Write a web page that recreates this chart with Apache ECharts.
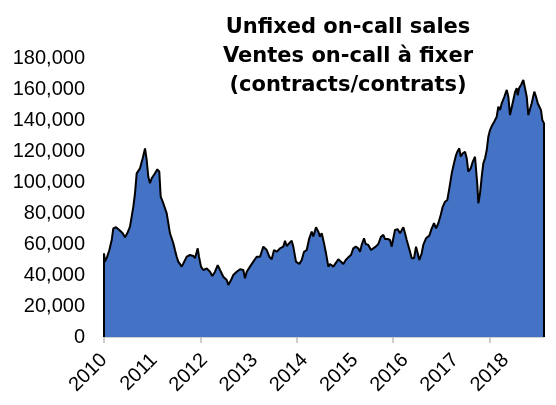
<!DOCTYPE html>
<html>
<head>
<meta charset="utf-8">
<script src="https://cdn.jsdelivr.net/npm/echarts@6/dist/echarts.min.js"></script>
<style>
  html, body { margin: 0; padding: 0; background: #fff; }
  #main { width: 556px; height: 405px; }
</style>
</head>
<body>
<div id="main"></div>
<script>
// weekly-ish readings, x in decimal years
var years = [
  2010.000, 2010.021, 2010.068, 2010.110, 2010.160, 2010.193, 2010.249, 2010.317, 2010.388, 2010.436,
  2010.483, 2010.539, 2010.608, 2010.643, 2010.678, 2010.747, 2010.803, 2010.851, 2010.886, 2010.919,
  2010.954, 2010.990, 2011.023, 2011.058, 2011.106, 2011.147, 2011.176, 2011.230, 2011.301, 2011.369,
  2011.438, 2011.473, 2011.508, 2011.541, 2011.612, 2011.645, 2011.716, 2011.784, 2011.853, 2011.888,
  2011.944, 2011.971, 2012.012, 2012.060, 2012.131, 2012.199, 2012.247, 2012.303, 2012.359, 2012.407,
  2012.475, 2012.546, 2012.579, 2012.635, 2012.683, 2012.753, 2012.822, 2012.890, 2012.925, 2012.961,
  2013.029, 2013.098, 2013.168, 2013.237, 2013.305, 2013.376, 2013.429, 2013.479, 2013.527, 2013.583,
  2013.651, 2013.720, 2013.755, 2013.790, 2013.844, 2013.894, 2013.927, 2013.983, 2014.052, 2014.102,
  2014.149, 2014.205, 2014.259, 2014.309, 2014.342, 2014.398, 2014.446, 2014.481, 2014.517, 2014.564,
  2014.606, 2014.654, 2014.689, 2014.757, 2014.807, 2014.861, 2014.917, 2014.965, 2015.015, 2015.068,
  2015.124, 2015.172, 2015.222, 2015.276, 2015.311, 2015.346, 2015.394, 2015.429, 2015.483, 2015.539,
  2015.587, 2015.637, 2015.691, 2015.747, 2015.795, 2015.830, 2015.886, 2015.934, 2015.969, 2016.002,
  2016.037, 2016.093, 2016.141, 2016.210, 2016.245, 2016.280, 2016.313, 2016.349, 2016.384, 2016.432,
  2016.473, 2016.500, 2016.541, 2016.591, 2016.624, 2016.680, 2016.749, 2016.799, 2016.846, 2016.888,
  2016.936, 2016.985, 2017.027, 2017.075, 2017.122, 2017.164, 2017.214, 2017.261, 2017.303, 2017.330,
  2017.371, 2017.400, 2017.442, 2017.490, 2017.525, 2017.558, 2017.608, 2017.649, 2017.697, 2017.745,
  2017.766, 2017.801, 2017.836, 2017.869, 2017.905, 2017.940, 2017.973, 2018.008, 2018.056, 2018.098,
  2018.147, 2018.180, 2018.216, 2018.251, 2018.305, 2018.355, 2018.388, 2018.423, 2018.459, 2018.492,
  2018.527, 2018.562, 2018.583, 2018.610, 2018.651, 2018.699, 2018.734, 2018.770, 2018.803, 2018.838,
  2018.873, 2018.927, 2018.963, 2018.998, 2019.025, 2019.066, 2019.093, 2019.115, 2019.128
];
var sales = [
  54000, 48600, 52000, 56000, 62600, 70000, 70800, 69000, 66900, 64300,
  66900, 71200, 84000, 92700, 105600, 108800, 115300, 121700, 114200, 103400,
  99200, 102400, 101300, 105600, 108200, 106700, 90500, 86300, 79800, 66900,
  60500, 56000, 51800, 48600, 45400, 46400, 51800, 52900, 52300, 50800,
  57200, 51800, 45400, 43200, 44300, 42100, 39400, 42100, 46400, 43200,
  38900, 36800, 33500, 36800, 40000, 42100, 43700, 43200, 37900, 42100,
  45400, 48600, 51800, 51800, 58300, 56100, 51800, 50100, 56100, 55000,
  57200, 58300, 62100, 58700, 60500, 62100, 58300, 48600, 47100, 49700,
  55000, 56100, 63700, 68000, 64800, 70800, 68000, 64800, 67000, 60500,
  54000, 45400, 47100, 45400, 47700, 50100, 48600, 47100, 49700, 51400,
  52900, 57200, 58300, 57200, 55000, 59400, 63700, 60000, 59400, 56100,
  57200, 58300, 60000, 64700, 65900, 63200, 63200, 62600, 58300, 63700,
  69000, 69500, 66900, 70800, 66900, 62600, 61600, 55000, 50800, 50800,
  58300, 55000, 49700, 54000, 59400, 63700, 65400, 70100, 73400, 70100,
  73400, 78700, 84000, 87300, 88400, 95900, 105600, 112100, 117400, 119500,
  121700, 116400, 118500, 119500, 115300, 106700, 108800, 113000, 116300, 98000,
  86300, 92700, 103400, 112000, 115300, 120600, 129200, 133500, 136800, 139000,
  142100, 148600, 146400, 150800, 155000, 159400, 155000, 143200, 142100, 152900,
  158000, 160500, 156000, 160500, 162600, 165800, 164700, 155000, 143200, 142100,
  150800, 158300, 155000, 150800, 151900, 146400, 140000, 138900, 137800
];
var tickYears = [2010, 2012, 2014, 2016, 2018];
var labelYears = [2010, 2011, 2012, 2013, 2014, 2015, 2016, 2017, 2018];
var titleLines = ['Unfixed on-call sales', 'Ventes on-call \u00e0 fixer', '(contracts/contrats)'];

var pts = [[years[0], 0]];
for (var i = 0; i < years.length; i++) pts.push([years[i], sales[i]]);
pts.push([years[years.length - 1], 0]);

var chart = echarts.init(document.getElementById('main'));
chart.setOption({
  animation: false,
  title: {
    text: titleLines.join('\n'),
    left: 343, top: 8, textAlign: 'center',
    textStyle: { fontFamily: 'DejaVu Sans', fontWeight: 'bold', fontSize: 21, lineHeight: 29, color: '#000' }
  },
  grid: { left: 104, right: 12, top: 58, bottom: 68 },
  xAxis: [{
    type: 'value', min: 2010, max: 2019.128, position: 'bottom',
    axisLine: { show: true, lineStyle: { color: '#bfbfbf', width: 1.5 } },
    axisTick: { show: true, length: 6, customValues: tickYears, lineStyle: { color: '#bfbfbf', width: 1.5 } },
    axisLabel: { show: false },
    splitLine: { show: false }
  }, {
    type: 'value', min: 2010, max: 2018.765, position: 'bottom',
    axisLine: { show: false },
    axisTick: { show: false },
    axisLabel: {
      customValues: labelYears, rotate: 45, margin: 20,
      fontFamily: 'Liberation Sans', fontSize: 20, color: '#000',
      formatter: function (v) { return String(Math.round(v)); }
    },
    splitLine: { show: false }
  }],
  yAxis: {
    type: 'value', min: 0, max: 180000, interval: 20000,
    axisLine: { show: false }, axisTick: { show: false }, splitLine: { show: false },
    axisLabel: {
      margin: 19, fontFamily: 'Liberation Sans', fontSize: 20, color: '#000',
      formatter: function (v) { return v.toLocaleString('en-US'); }
    }
  },
  series: [{
    type: 'line', xAxisIndex: 0, data: pts,
    showSymbol: false, symbol: 'none',
    lineStyle: { color: '#000', width: 2 },
    areaStyle: { color: '#4472c4', opacity: 1 }
  }]
});
</script>
</body>
</html>
